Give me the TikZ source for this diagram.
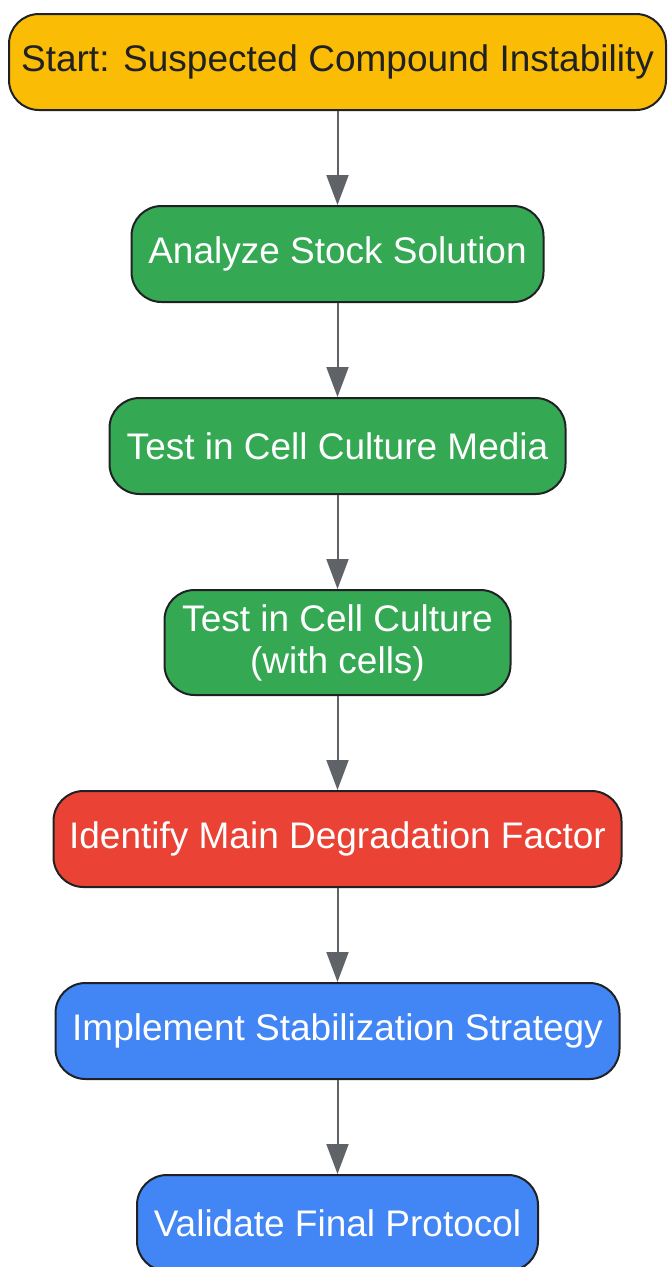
\documentclass[tikz,border=0pt]{standalone}
\usepackage{fontspec}
\setmainfont{Liberation Sans}
\usetikzlibrary{arrows.meta}
\definecolor{gyellow}{HTML}{FBBC05}
\definecolor{ggreen}{HTML}{34A853}
\definecolor{gred}{HTML}{EA4335}
\definecolor{gblue}{HTML}{4285F4}
\definecolor{gline}{HTML}{5F6368}
\definecolor{gdark}{HTML}{202124}
\tikzset{
  stepbox/.style={draw=gdark, line width=2pt, rounded corners=30pt, align=center,
    inner sep=0pt, font=\fontsize{37}{42}\selectfont, text=white},
  flow/.style={draw=gline, line width=2pt, -{Triangle[width=22pt,length=30pt]}}
}
\begin{document}
\begin{tikzpicture}[x=1pt,y=1pt]
				%%%%% START %%%%%
				\def\cx{337.5}
				\def\boxh{96}
				\useasboundingbox (0,0) rectangle (667,-1267);

				\node[stepbox, fill=gyellow, text=gdark, minimum width=657pt, minimum height=\boxh pt] (start) at (\cx,-62) {Start: Suspected Compound Instability};
				\node[stepbox, fill=ggreen, minimum width=412pt, minimum height=\boxh pt] (stock) at (\cx,-254) {Analyze Stock Solution};
				\node[stepbox, fill=ggreen, minimum width=456pt, minimum height=\boxh pt] (media) at (\cx,-446) {Test in Cell Culture Media};
				\node[stepbox, fill=ggreen, minimum width=346pt, minimum height=105pt] (cells) at (\cx,-642.5) {Test in Cell Culture\\(with cells)};
				\node[stepbox, fill=gred, minimum width=568pt, minimum height=\boxh pt] (factor) at (\cx,-839) {Identify Main Degradation Factor};
				\node[stepbox, fill=gblue, minimum width=564pt, minimum height=\boxh pt] (strategy) at (\cx,-1031) {Implement Stabilization Strategy};
				\node[stepbox, fill=gblue, minimum width=401pt, minimum height=\boxh pt] (validate) at (\cx,-1223) {Validate Final Protocol};

				\draw[flow] (start) -- (stock);
				\draw[flow] (stock) -- (media);
				\draw[flow] (media) -- (cells);
				\draw[flow] (cells) -- (factor);
				\draw[flow] (factor) -- (strategy);
				\draw[flow] (strategy) -- (validate);
				%%%%% START %%%%%
\end{tikzpicture}
\end{document}
